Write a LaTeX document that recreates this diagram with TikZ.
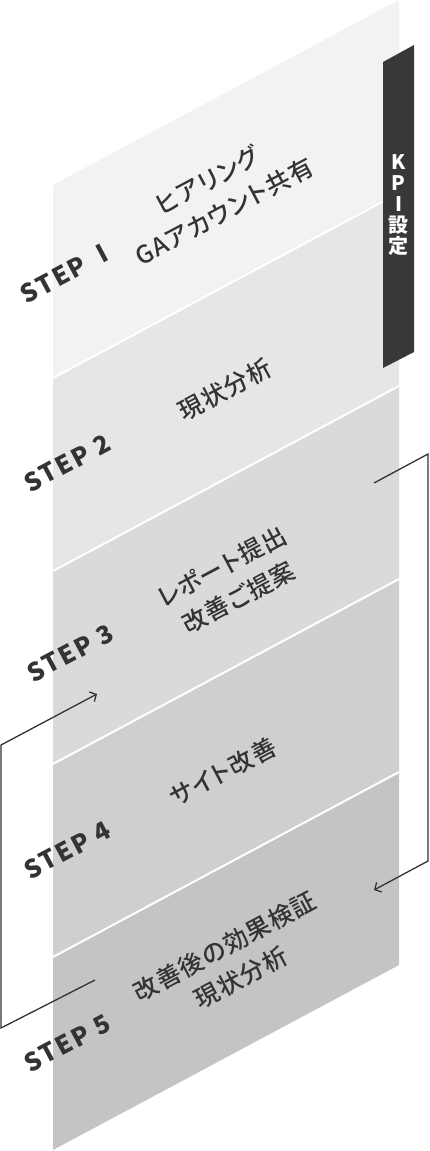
\documentclass[tikz,border=0pt]{standalone}
\usepackage{fontspec}
\setmainfont{Noto Sans CJK JP}
\newfontfamily\labelfont[RawFeature=+palt, LetterSpace=4]{Noto Sans CJK JP Medium}
\newfontfamily\kpifont{Noto Sans CJK JP}
\newfontfamily\stepfont[LetterSpace=8]{Noto Sans CJK JP}
\usetikzlibrary{arrows.meta}
\definecolor{bandone}{HTML}{F2F2F2}
\definecolor{bandtwo}{HTML}{E6E6E6}
\definecolor{bandthree}{HTML}{DADADA}
\definecolor{bandfour}{HTML}{CFCFCF}
\definecolor{bandfive}{HTML}{C4C4C4}
\definecolor{inkcolor}{HTML}{333333}
\definecolor{kpicolor}{HTML}{383838}

\begin{document}
\begin{tikzpicture}[
    x=1pt, y=-1pt,
    sepline/.style={draw=white, line width=2pt},
    steplabel/.style={
        rotate=28,
        inner sep=0pt,
        text=inkcolor,
        font=\stepfont\bfseries\fontsize{25}{25}\selectfont
    },
    textlabel/.style={
        rotate=28,
        inner sep=0pt,
        align=center,
        text=inkcolor,
        font=\labelfont\fontsize{24.5}{35}\selectfont
    },
    kpilabel/.style={
        inner sep=0pt,
        align=center,
        text=white,
        font=\kpifont\bfseries\fontsize{20}{21}\selectfont
    },
    loopline/.style={draw=inkcolor, line width=1.3pt, -{Straight Barb[length=5pt,width=11pt]}}
]

\useasboundingbox (0,0) rectangle (429,1151);

% --- BANDS ---
\fill[bandone]   (53,185) -- (399,0)   -- (399,193) -- (53,378)  -- cycle;
\fill[bandtwo]   (53,378) -- (399,193) -- (399,386) -- (53,571)  -- cycle;
\fill[bandthree] (53,571) -- (399,386) -- (399,579) -- (53,764)  -- cycle;
\fill[bandfour]  (53,764) -- (399,579) -- (399,772) -- (53,957)  -- cycle;
\fill[bandfive]  (53,957) -- (399,772) -- (399,965) -- (53,1150) -- cycle;

% white gaps between the steps
\draw[sepline] (53,378) -- (399,193);
\draw[sepline] (53,571) -- (399,386);
\draw[sepline] (53,764) -- (399,579);
\draw[sepline] (53,957) -- (399,772);

% --- KPI BAR ---
\fill[kpicolor] (383,62) -- (414,45) -- (414,352) -- (383,368) -- cycle;
\node[kpilabel] (kpi) at (398.5,205) {K\\P\\I\\設\\定};

% --- STEP LABELS ---
\node[steplabel] (step1) at (68,272)  {STEP Ⅰ};
\node[steplabel] (step2) at (67,463)  {STEP 2};
\node[steplabel] (step3) at (70,653)  {STEP 3};
\node[steplabel] (step4) at (67,850)  {STEP 4};
\node[steplabel] (step5) at (67,1043) {STEP 5};

% --- STEP TEXTS ---
\node[textlabel] (hearing) at (216,196) {ヒアリング\\GAアカウント共有};
\node[textlabel] (analysis) at (225,390) {現状分析};
\node[textlabel] (report) at (230,582) {レポート提出\\改善ご提案};
\node[textlabel] (improve) at (223,772) {サイト改善};
\node[textlabel] (verify) at (233,962) {改善後の効果検証\\現状分析};

% --- LOOP CONNECTORS ---
\coordinate (fwd_start) at (374,483);
\coordinate (fwd_top) at (428,454);
\coordinate (fwd_bottom) at (428,861);
\coordinate (fwd_end) at (374,890);
\draw[loopline] (fwd_start) -- (fwd_top) -- (fwd_bottom) -- (fwd_end);

\coordinate (back_start) at (95,980);
\coordinate (back_bottom) at (1,1028);
\coordinate (back_top) at (1,745);
\coordinate (back_end) at (97,694);
\draw[loopline] (back_start) -- (back_bottom) -- (back_top) -- (back_end);

\end{tikzpicture}
\end{document}
